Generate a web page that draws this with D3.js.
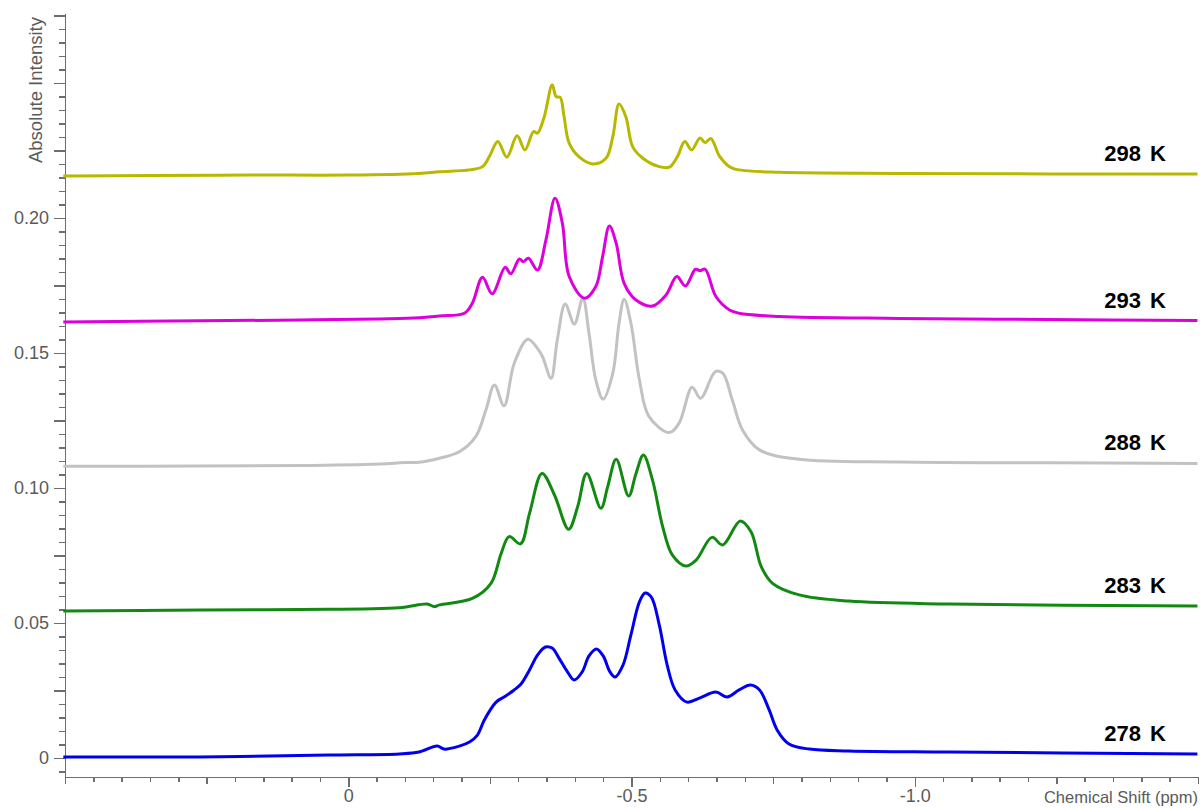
<!DOCTYPE html>
<html>
<head>
<style>
  body { margin: 0; background: #fff; }
  .axis path, .axis line { stroke: #6e6e6e; stroke-width: 1.5; shape-rendering: crispEdges; }
  .axis text { font-family: "Liberation Sans", Arial, sans-serif; font-size: 18px; fill: #5a5a5a; }
  .temp { font-family: "Liberation Sans", Arial, sans-serif; font-size: 22px; font-weight: bold; fill: #000; word-spacing: 3px; }
  .title { font-family: "Liberation Sans", Arial, sans-serif; font-size: 16.5px; fill: #5a5a5a; }
  .ytitle { font-family: "Liberation Sans", Arial, sans-serif; font-size: 18.5px; fill: #5a5a5a; }
</style>
</head>
<body>
<svg width="1200" height="808"></svg>
<script src="https://cdn.jsdelivr.net/npm/d3@7/dist/d3.min.js"></script>
<script>
// temperatures, stacking offsets (absolute intensity of each baseline)
var temps = ["278 K", "283 K", "288 K", "293 K", "298 K"];
var offsets = [0, 0.054, 0.108, 0.1615, 0.2155];
var colors = ["#0000ee", "#128a12", "#c2c2c2", "#dd00dd", "#b8b800"];

// [chemical shift (ppm), intensity above own baseline]
var s278 = [[0.503,0.0004],[0.263,0.0004],[0.034,0.0011],[-0.090,0.0015],[-0.125,0.0022],[-0.157,0.0044],
  [-0.169,0.0033],[-0.196,0.0044],[-0.214,0.0059],[-0.228,0.0085],[-0.240,0.0140],[-0.261,0.0207],
  [-0.275,0.0226],[-0.293,0.0252],[-0.305,0.0274],[-0.320,0.0326],[-0.334,0.0381],[-0.348,0.0411],
  [-0.360,0.0407],[-0.372,0.0370],[-0.387,0.0319],[-0.399,0.0289],[-0.413,0.0319],[-0.425,0.0378],
  [-0.438,0.0404],[-0.450,0.0378],[-0.462,0.0319],[-0.471,0.0300],[-0.485,0.0344],[-0.499,0.0456],
  [-0.514,0.0578],[-0.524,0.0611],[-0.535,0.0596],[-0.549,0.0493],[-0.563,0.0344],[-0.577,0.0252],
  [-0.598,0.0207],[-0.620,0.0222],[-0.649,0.0244],[-0.669,0.0226],[-0.690,0.0252],[-0.710,0.0270],
  [-0.726,0.0252],[-0.743,0.0178],[-0.757,0.0104],[-0.778,0.0052],[-0.814,0.0033],[-0.884,0.0026],
  [-1.061,0.0022],[-1.499,0.0015]];

var s283 = [[0.503,0.0004],[0.263,0.0008],[0.086,0.0010],[-0.090,0.0016],[-0.139,0.0030],[-0.152,0.0021],
  [-0.161,0.0027],[-0.219,0.0051],[-0.252,0.0107],[-0.270,0.0218],[-0.284,0.0280],[-0.304,0.0253],
  [-0.320,0.0366],[-0.342,0.0514],[-0.364,0.0434],[-0.389,0.0307],[-0.405,0.0391],[-0.421,0.0514],
  [-0.446,0.0385],[-0.458,0.0465],[-0.473,0.0566],[-0.495,0.0430],[-0.508,0.0514],[-0.521,0.0582],
  [-0.537,0.0490],[-0.555,0.0317],[-0.572,0.0212],[-0.596,0.0171],[-0.614,0.0193],[-0.642,0.0277],
  [-0.661,0.0249],[-0.692,0.0338],[-0.711,0.0298],[-0.729,0.0169],[-0.749,0.0107],[-0.796,0.0064],
  [-0.884,0.0041],[-1.061,0.0030],[-1.499,0.0023]];

var s288 = [[0.503,0.0000],[0.263,0.0001],[0.086,0.0003],[-0.055,0.0009],[-0.099,0.0014],[-0.125,0.0015],
  [-0.161,0.0030],[-0.196,0.0054],[-0.225,0.0110],[-0.243,0.0209],[-0.258,0.0301],[-0.275,0.0224],
  [-0.293,0.0382],[-0.317,0.0471],[-0.334,0.0437],[-0.343,0.0406],[-0.358,0.0326],[-0.369,0.0468],
  [-0.383,0.0601],[-0.399,0.0527],[-0.414,0.0623],[-0.425,0.0493],[-0.437,0.0320],[-0.450,0.0249],
  [-0.467,0.0345],[-0.478,0.0530],[-0.487,0.0619],[-0.499,0.0530],[-0.514,0.0320],[-0.531,0.0184],
  [-0.567,0.0125],[-0.584,0.0160],[-0.607,0.0293],[-0.622,0.0252],[-0.648,0.0351],[-0.661,0.0345],
  [-0.678,0.0246],[-0.696,0.0135],[-0.726,0.0061],[-0.796,0.0026],[-0.973,0.0016],[-1.237,0.0013],
  [-1.499,0.0011]];

var s293 = [[0.503,0.0000],[0.263,0.0004],[0.086,0.0007],[-0.055,0.0011],[-0.125,0.0015],[-0.161,0.0022],
  [-0.205,0.0032],[-0.219,0.0069],[-0.237,0.0165],[-0.254,0.0104],[-0.277,0.0202],[-0.287,0.0178],
  [-0.302,0.0233],[-0.309,0.0223],[-0.318,0.0236],[-0.334,0.0192],[-0.349,0.0304],[-0.365,0.0458],
  [-0.378,0.0365],[-0.390,0.0168],[-0.417,0.0088],[-0.437,0.0131],[-0.449,0.0242],[-0.461,0.0355],
  [-0.473,0.0291],[-0.487,0.0143],[-0.508,0.0081],[-0.537,0.0059],[-0.561,0.0100],[-0.580,0.0168],
  [-0.595,0.0133],[-0.613,0.0195],[-0.621,0.0190],[-0.630,0.0195],[-0.649,0.0094],[-0.673,0.0044],
  [-0.690,0.0032],[-0.761,0.0020],[-0.973,0.0013],[-1.237,0.0009],[-1.499,0.0005]];

var s298 = [[0.503,0.0000],[0.351,0.0002],[0.175,0.0004],[-0.002,0.0004],[-0.125,0.0010],[-0.161,0.0016],
  [-0.214,0.0023],[-0.237,0.0035],[-0.249,0.0072],[-0.264,0.0128],[-0.280,0.0070],[-0.298,0.0149],
  [-0.312,0.0097],[-0.327,0.0165],[-0.334,0.0159],[-0.346,0.0220],[-0.360,0.0338],[-0.367,0.0294],
  [-0.374,0.0292],[-0.381,0.0220],[-0.390,0.0122],[-0.408,0.0070],[-0.432,0.0045],[-0.455,0.0066],
  [-0.467,0.0146],[-0.478,0.0267],[-0.490,0.0220],[-0.502,0.0109],[-0.520,0.0066],[-0.549,0.0035],
  [-0.567,0.0033],[-0.581,0.0072],[-0.594,0.0128],[-0.606,0.0097],[-0.621,0.0141],[-0.630,0.0124],
  [-0.640,0.0139],[-0.655,0.0075],[-0.673,0.0035],[-0.690,0.0023],[-0.761,0.0014],[-0.973,0.0010],
  [-1.237,0.0008],[-1.499,0.0008]];

var spectra = [s278, s283, s288, s293, s298];

var yLabelTicks = [0, 0.05, 0.10, 0.15, 0.20];
var yLabelText = ["0", "0.05", "0.10", "0.15", "0.20"];
var xLabelTicks = [0, -0.5, -1.0];
var xLabelText = ["0", "-0.5", "-1.0"];

(function() {
  var svg = d3.select("svg"),
      plotLeft = 65, plotRight = 1198, plotTop = 13, plotBottom = 777;

  var x = d3.scaleLinear().domain([0.5, -1.5]).range([plotLeft, plotRight]);
  var y = d3.scaleLinear().domain([-0.00704, 0.2759]).range([plotBottom, plotTop]);

  /* y axis: minor every 0.005, long every 0.025, labels every 0.05 */
  var yMinor = d3.range(0, 57).map(function(i) { return +(-0.005 + i * 0.005).toFixed(3); });
  var yLong = yMinor.filter(function(v) { return Math.abs(Math.round(v / 0.025) * 0.025 - v) < 1e-6; });

  svg.append("g")
      .attr("class", "axis")
      .attr("transform", "translate(" + plotLeft + ",0)")
      .call(d3.axisLeft(y).tickValues(yMinor).tickSize(6).tickSizeOuter(0).tickFormat(""));

  svg.append("g")
      .attr("class", "axis")
      .attr("transform", "translate(" + plotLeft + ",0)")
      .call(d3.axisLeft(y).tickValues(yLong).tickSize(11).tickSizeOuter(0).tickPadding(5)
        .tickFormat(function(d) {
          for (var i = 0; i < yLabelTicks.length; i++) if (Math.abs(yLabelTicks[i] - d) < 1e-6) return yLabelText[i];
          return "";
        }))
      .select(".domain").remove();

  /* x axis: minor every 0.05, medium every 0.25, long + label every 0.5 */
  var xMinor = d3.range(0, 41).map(function(i) { return +(0.5 - i * 0.05).toFixed(2); });
  var xMed = xMinor.filter(function(v) { return Math.abs(Math.round(v / 0.25) * 0.25 - v) < 1e-6; });

  svg.append("g")
      .attr("class", "axis")
      .attr("transform", "translate(0," + plotBottom + ")")
      .call(d3.axisBottom(x).tickValues(xMinor).tickSize(5).tickSizeOuter(0).tickFormat(""));

  svg.append("g")
      .attr("class", "axis")
      .attr("transform", "translate(0," + plotBottom + ")")
      .call(d3.axisBottom(x).tickValues(xMed).tickSize(7).tickSizeOuter(0).tickFormat(""))
      .select(".domain").remove();

  svg.append("g")
      .attr("class", "axis")
      .attr("transform", "translate(0," + plotBottom + ")")
      .call(d3.axisBottom(x).tickValues(xLabelTicks).tickSize(10).tickPadding(2)
        .tickFormat(function(d, i) { return xLabelText[i]; }))
      .select(".domain").remove();

  /* axis titles */
  svg.append("text")
      .attr("class", "ytitle")
      .attr("transform", "translate(42,17) rotate(-90)")
      .attr("text-anchor", "end")
      .text("Absolute Intensity");

  svg.append("text")
      .attr("class", "title")
      .attr("x", plotRight)
      .attr("y", 803)
      .attr("text-anchor", "end")
      .text("Chemical Shift (ppm)");

  /* spectra */
  spectra.forEach(function(s, i) {
    var line = d3.line()
        .curve(d3.curveCatmullRom.alpha(0.5))
        .x(function(d) { return x(d[0]); })
        .y(function(d) { return y(d[1] + offsets[i]); });

    svg.append("path")
        .datum(s)
        .attr("fill", "none")
        .attr("stroke", colors[i])
        .attr("stroke-width", 3)
        .attr("stroke-linejoin", "round")
        .attr("d", line);

    var last = s[s.length - 1];
    svg.append("text")
        .attr("class", "temp")
        .attr("x", 1166)
        .attr("y", y(offsets[i] + last[1]) - 13)
        .attr("text-anchor", "end")
        .text(temps[i]);
  });
})();
</script>
</body>
</html>
